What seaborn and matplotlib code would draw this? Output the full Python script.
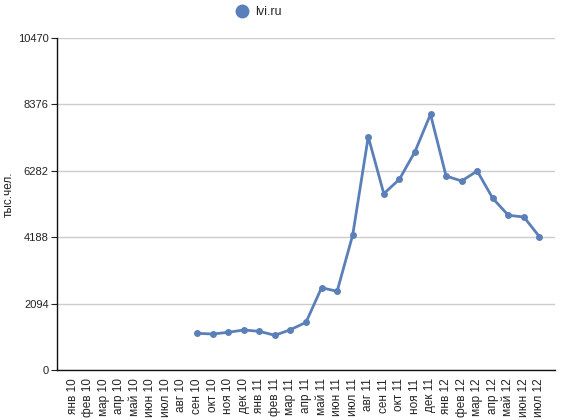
import numpy as np
import pandas as pd
import seaborn as sns
import matplotlib.pyplot as plt

months = ["янв 10", "фев 10", "мар 10", "апр 10", "май 10", "июн 10", "июл 10", "авг 10",
          "сен 10", "окт 10", "ноя 10", "дек 10", "янв 11", "фев 11", "мар 11", "апр 11",
          "май 11", "июн 11", "июл 11", "авг 11", "сен 11", "окт 11", "ноя 11", "дек 11",
          "янв 12", "фев 12", "мар 12", "апр 12", "май 12", "июн 12", "июл 12"]
visitors = [np.nan] * 8 + [1157, 1135, 1189, 1261, 1220, 1094, 1271, 1504,
                           2595, 2482, 4257, 7357, 5560, 6014, 6884, 8064,
                           6118, 5960, 6276, 5415, 4879, 4825, 4204]
y_ticks = [0, 2094, 4188, 6282, 8376, 10470]
series_name = "lvi.ru"

df = pd.DataFrame({"pos": range(len(months)), "month": months, "value": visitors})

sns.set_style("white")
plt.rcParams["font.family"] = ["Liberation Sans", "DejaVu Sans"]

fig = plt.figure(figsize=(5.63, 4.2), dpi=100)
ax = fig.add_axes([57 / 563, 50 / 420, 498 / 563, 332 / 420])

color = "#5b7fb8"
sns.lineplot(data=df.dropna(), x="pos", y="value", marker="o", markersize=5,
             color=color, linewidth=2, markeredgewidth=0, ax=ax, label=series_name)

ax.set_xlim(-1, len(months))
ax.set_ylim(0, y_ticks[-1])
ax.set_yticks(y_ticks)
ax.set_yticklabels([str(t) for t in y_ticks], fontsize=8, color="#222222")
ax.set_xticks(range(len(months)))
ax.set_xticklabels(months, rotation=90, fontsize=8.5, color="#222222")
ax.tick_params(axis="x", length=0, pad=6)
ax.tick_params(axis="y", length=4, width=0.8, color="#222222", pad=2, left=True)
ax.set_xlabel("")
ax.set_ylabel("тыс.чел.", fontsize=8.5, color="#222222")
ax.yaxis.set_label_coords(-0.084, 0.53)

ax.yaxis.grid(True, color="#cccccc", linewidth=1)
ax.xaxis.grid(False)
for side in ["top", "right"]:
    ax.spines[side].set_visible(False)
for side in ["left", "bottom"]:
    ax.spines[side].set_color("#111111")
    ax.spines[side].set_linewidth(1)

leg = ax.legend(loc="lower center", bbox_to_anchor=(0.405, 1.025), frameon=False,
                fontsize=9, handlelength=1.0, handletextpad=0.5, markerscale=2.0)
for h in leg.legend_handles:
    h.set_linestyle("none")

fig.savefig("out.png", dpi=100)
